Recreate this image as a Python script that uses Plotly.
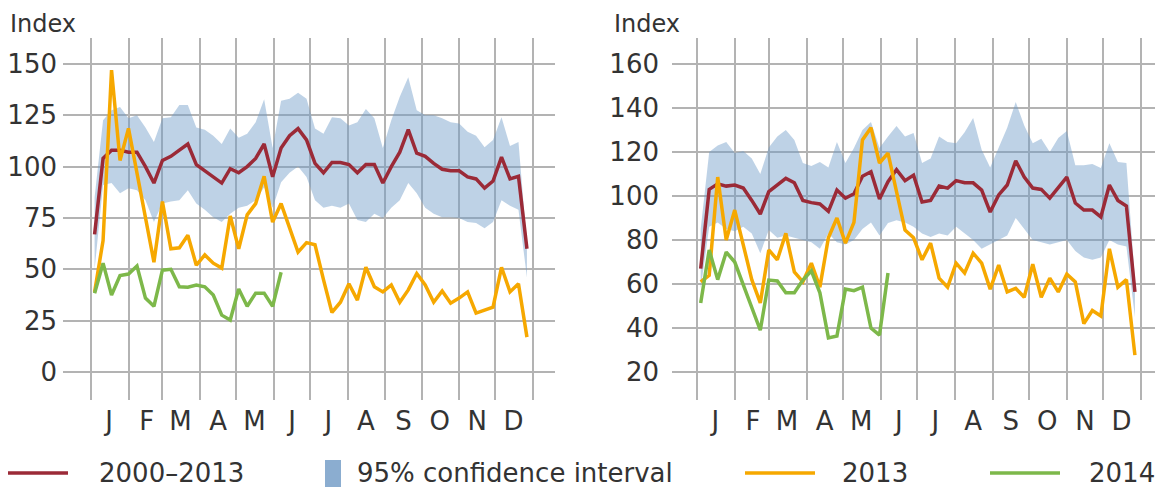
import pandas as pd
import plotly.graph_objects as go

# weekly points (52 weeks), plotted on a non-leap calendar year
weeks = pd.date_range("2001-01-04", periods=52, freq="7D")
month_starts = pd.date_range("2001-01-01", periods=13, freq="MS")
month_mids = [d + pd.Timedelta(days=15) for d in month_starts[:-1]]
month_labels = ["J", "F", "M", "A", "M", "J", "J", "A", "S", "O", "N", "D"]

# ---- left panel ----
left_mean = [67, 104, 108, 108, 107, 107, 100, 92, 103, 105, 108, 111, 101, 98, 95, 92,
             99, 97, 100, 104, 111, 95, 109, 115, 118.5, 113, 101.6, 97, 102, 102, 101,
             97, 101, 101, 92, 100, 107, 118, 106.5, 105, 101.6, 98.7, 98, 98, 95, 94,
             89.5, 93, 104.6, 94, 95.3, 60]
left_upper = [85, 122.6, 127.4, 129, 123.5, 125, 119, 112, 123.5, 124, 130, 130, 119, 118,
              115, 111, 118.6, 114, 116, 121.6, 132.8, 109, 132, 133, 136, 133, 118.6, 116,
              124, 123.5, 120, 121.6, 128, 123.5, 109, 122.6, 134, 143.5, 127.4, 125, 125,
              123.5, 121.6, 121, 117, 115, 109.4, 113, 124, 110, 112, 62]
left_lower = [50, 91, 92, 87, 89.5, 88.5, 83.6, 73, 82, 83, 83.6, 88.5, 82, 79, 75.4, 73,
              77, 80, 81, 83.6, 90, 80, 92.4, 97, 100, 95, 83.6, 80, 81, 80, 82, 74, 73, 77,
              75, 80, 83.6, 92, 87, 80, 77, 75.4, 75.4, 75, 73, 72.5, 70, 73, 83.6, 81, 79, 46]
left_2013 = [39, 64, 147, 103, 118.6, 97, 75, 53.5, 83, 60, 60.5, 66.6, 52, 57, 53, 50.6,
             76, 60, 76.5, 82, 95.3, 73, 82, 70, 58.4, 63, 62, 45, 29, 34, 43, 35, 51, 41.5,
             39, 42.4, 34, 40, 48, 42.4, 34, 39.5, 33.5, 36, 39, 28.7, 30, 31.6, 51, 39, 43, 17]
left_2014 = [38.4, 53, 37.5, 47, 47.7, 51.6, 36, 32, 49.6, 50, 41.5, 41.3, 42.4, 41.5,
             37.5, 27.7, 25.3, 40.4, 32, 38.4, 38.4, 32, 48.6]
left_ticks = [0, 25, 50, 75, 100, 125, 150]

# ---- right panel ----
right_mean = [67, 103, 105.5, 104.5, 105, 103.6, 98, 91.8, 102, 105, 108, 106, 98, 97, 96.4,
              93, 102.7, 99, 101, 109, 111, 98.6, 106.5, 112, 107, 109.5, 97.3, 98, 104.5,
              103.6, 107, 106, 106, 102.7, 92.7, 100.5, 105, 116, 108.6, 103.6, 103, 99,
              103.6, 108.6, 96.8, 93.6, 93.6, 90.5, 105, 98, 95.5, 56.4]
right_upper = [85, 120, 123, 124.5, 119.5, 120.5, 117, 110, 122, 127, 130, 125.5, 115, 113.6,
               115.5, 113, 124.5, 115, 121.8, 130, 133.6, 121.8, 127, 131.8, 127, 128.6, 115,
               117, 127, 124.5, 124, 129, 135.5, 121, 113, 122, 131, 142.7, 132, 124, 126,
               120, 126.4, 129.5, 114, 114, 114.5, 112.7, 124, 115.5, 115, 62]
right_lower = [58, 86, 88, 85, 84, 86, 83, 74, 84.5, 81, 82, 81, 80, 79, 76, 83, 79, 78, 80,
               85, 88, 82, 87.7, 89, 88, 86, 83, 81.4, 83, 82, 86, 83, 80, 76, 78, 80, 82, 90,
               85, 80, 79, 78, 79, 80, 75, 72, 71, 72, 80, 78, 77, 45]
right_2013 = [61, 64, 108.6, 80, 93.6, 78, 62, 51.4, 75.5, 71, 83, 65.5, 61, 69.5, 58.6, 81,
              90, 78.6, 88, 125.5, 131, 115, 119.5, 102, 84.5, 81, 71, 78.6, 62.7, 58.6, 69.5,
              65, 74, 69.5, 57.7, 68.6, 56.4, 58, 54, 69, 54, 62.7, 56.4, 64.5, 61, 42, 48,
              45.5, 76, 58.6, 62, 27.7]
right_2014 = [51.4, 75.5, 62, 74.5, 70, 59.5, 49, 39, 61.8, 61.4, 56, 56, 61.8, 66, 56, 35.5,
              36.4, 57.7, 57, 58.6, 40, 36.8, 65]
right_ticks = [20, 40, 60, 80, 100, 120, 140, 160]

RED = "#9b2a37"
ORANGE = "#f6a800"
GREEN = "#7db84a"
BAND = "rgba(110,155,200,0.45)"
TXT = "#333333"
FONT = "DejaVu Sans"
GRID = "#b3b3b3"

# the page body adds an 8px margin, so the figure is 8px smaller than the window
W, H = 1155, 490


def px(x):
    return x / W


def py(y):
    return (H - y) / H


fig = go.Figure()


def add_panel(xa, ya, mean, upper, lower, y13, y14):
    fig.add_trace(go.Scatter(x=weeks, y=upper, mode="lines", line=dict(width=0),
                             hoverinfo="skip", xaxis=xa, yaxis=ya, showlegend=False))
    fig.add_trace(go.Scatter(x=weeks, y=lower, mode="lines", line=dict(width=0),
                             fill="tonexty", fillcolor=BAND, xaxis=xa, yaxis=ya,
                             showlegend=False))
    fig.add_trace(go.Scatter(x=weeks, y=mean, mode="lines", line=dict(color=RED, width=3.5),
                             xaxis=xa, yaxis=ya, showlegend=False))
    fig.add_trace(go.Scatter(x=weeks, y=y13, mode="lines", line=dict(color=ORANGE, width=3.5),
                             xaxis=xa, yaxis=ya, showlegend=False))
    fig.add_trace(go.Scatter(x=weeks[:len(y14)], y=y14, mode="lines",
                             line=dict(color=GREEN, width=3.5),
                             xaxis=xa, yaxis=ya, showlegend=False))


add_panel("x", "y", left_mean, left_upper, left_lower, left_2013, left_2014)
add_panel("x2", "y2", right_mean, right_upper, right_lower, right_2013, right_2014)

xcommon = dict(
    tickmode="array", tickvals=month_mids, ticktext=month_labels,
    showgrid=False, zeroline=False, showline=False, ticks="",
    tickfont=dict(family=FONT, size=26, color=TXT), ticklabelstandoff=3,
    minor=dict(tickmode="array", tickvals=list(month_starts), showgrid=True,
               gridcolor=GRID, gridwidth=1.8, ticks=""),
    automargin=False,
)
ycommon = dict(
    tickmode="array", showgrid=True, gridcolor=GRID, gridwidth=1.8,
    zeroline=False, showline=False, ticks="",
    tickfont=dict(family=FONT, size=26, color=TXT), automargin=False,
)

ydom = [py(392), py(30)]
fig.update_layout(
    width=W, height=H,
    margin=dict(l=0, r=0, t=0, b=0),
    paper_bgcolor="white", plot_bgcolor="white",
    xaxis=dict(domain=[px(55), px(547)],
               range=["2000-12-08 22:00", "2002-01-19 04:00"], **xcommon),
    xaxis2=dict(domain=[px(664), 1.0], anchor="y2",
                range=["2000-12-11 10:00", "2002-01-19 02:00"], **xcommon),
    yaxis=dict(domain=ydom, range=[-13.6, 162.6],
               tickvals=left_ticks, ticklabelstandoff=5, **ycommon),
    yaxis2=dict(domain=ydom, range=[7.3, 171.8], anchor="x2",
                tickvals=right_ticks, ticklabelstandoff=12, **ycommon),
    showlegend=False,
)

# axis captions
for xpos in [0, 604]:
    fig.add_annotation(x=px(xpos), y=1.0, xref="paper", yref="paper", text="Index",
                       showarrow=False, xanchor="left", yanchor="top",
                       font=dict(family=FONT, size=24, color=TXT))

# legend row drawn along the bottom
leg_y = py(465)
line_keys = [(RED, 0, 60, 89, "2000–2013"), (ORANGE, 737, 807, 832, "2013"),
             (GREEN, 982, 1052, 1079, "2014")]
for col, x0, x1, xt, label in line_keys:
    fig.add_shape(type="line", xref="paper", yref="paper", x0=px(x0), x1=px(x1),
                  y0=leg_y, y1=leg_y, line=dict(color=col, width=3.5))
    fig.add_annotation(x=px(xt), y=leg_y, xref="paper", yref="paper", text=label,
                       showarrow=False, xanchor="left", yanchor="middle",
                       font=dict(family=FONT, size=26, color=TXT))
fig.add_shape(type="rect", xref="paper", yref="paper", x0=px(317), x1=px(333),
              y0=py(479), y1=py(452), fillcolor="#8badd0", line=dict(width=0))
fig.add_annotation(x=px(347), y=leg_y, xref="paper", yref="paper",
                   text="95% confidence interval", showarrow=False, xanchor="left",
                   yanchor="middle", font=dict(family=FONT, size=26, color=TXT))

fig.write_html("out.html")
